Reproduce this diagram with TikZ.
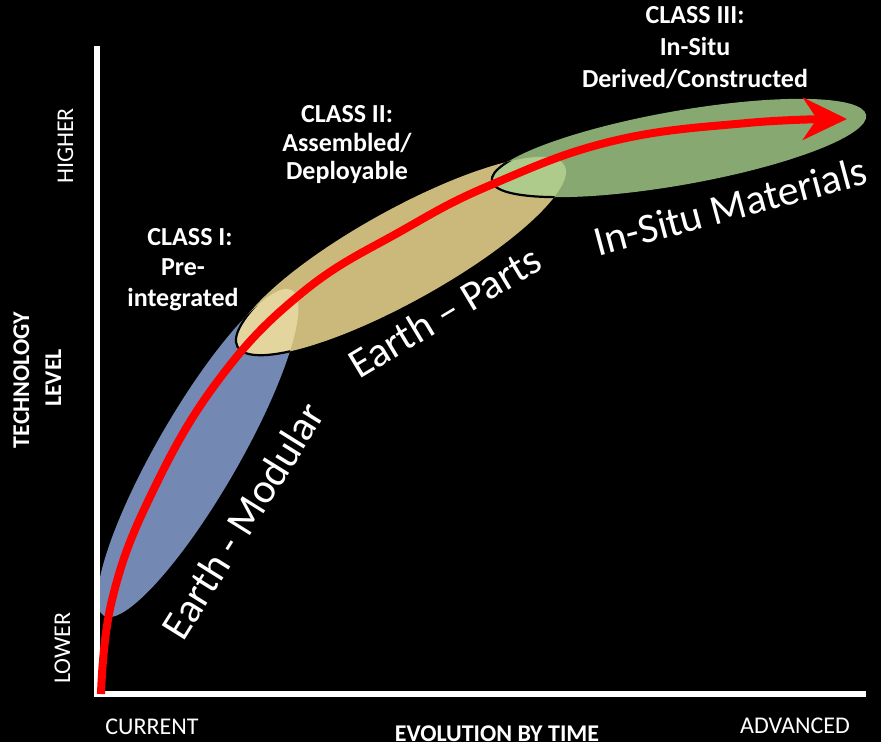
\documentclass[tikz,border=0pt]{standalone}
\usepackage{fontspec}
\setmainfont{Carlito}
\usetikzlibrary{arrows.meta}
\definecolor{bluefill}{RGB}{115,137,180}
\definecolor{tanfill}{RGB}{203,185,124}
\definecolor{tanlight}{RGB}{227,213,157}
\definecolor{greenfill}{RGB}{135,168,113}
\definecolor{greenlight}{RGB}{174,203,140}
\definecolor{arrowred}{RGB}{255,0,0}
\tikzset{
  cls/.style={text=white, font=\bfseries\fontsize{26}{30}\selectfont, inner sep=0pt, anchor=base},
  axl/.style={text=white, font=\fontsize{24}{29}\selectfont, inner sep=0pt, anchor=base},
  axb/.style={text=white, font=\bfseries\fontsize{24}{29}\selectfont, inner sep=0pt, anchor=base},
  big/.style={text=white, font=\fontsize{42}{50}\selectfont, inner sep=0pt, anchor=base},
  axis line/.style={draw=white, line width=6pt},
  overlap edge/.style={draw=black, line width=2.2pt},
}
\begin{document}
\begin{tikzpicture}[x=1pt,y=-1pt]
\useasboundingbox (0,0) rectangle (881,742);
\fill[black] (0,0) rectangle (881,742);
% ellipses
\fill[bluefill, rotate around={60:(198,453)}] (198,453) ellipse [x radius=188pt, y radius=41pt];
\fill[tanfill, rotate around={29:(401,256)}] (401,256) ellipse [x radius=187pt, y radius=46pt];
\begin{scope}
  \clip[rotate around={60:(198,453)}] (198,453) ellipse [x radius=188pt, y radius=41pt];
  \fill[tanlight, rotate around={29:(401,256)}] (401,256) ellipse [x radius=187pt, y radius=46pt];
  \draw[overlap edge, rotate around={29:(401,256)}] (401,256) ellipse [x radius=187pt, y radius=46pt];
\end{scope}
\fill[greenfill, rotate around={10:(679,148)}] (679,148) ellipse [x radius=190pt, y radius=37pt];
\begin{scope}
  \clip[rotate around={29:(401,256)}] (401,256) ellipse [x radius=187pt, y radius=46pt];
  \fill[greenlight, rotate around={10:(679,148)}] (679,148) ellipse [x radius=190pt, y radius=37pt];
  \draw[overlap edge, rotate around={10:(679,148)}] (679,148) ellipse [x radius=190pt, y radius=37pt];
\end{scope}
% axes
\coordinate (ytop) at (96.5,46);
\coordinate (ybot) at (96.5,696.5);
\coordinate (xstart) at (93.5,693.5);
\coordinate (xend) at (866,693.5);
\draw[axis line] (ytop) -- (ybot);
\draw[axis line] (xstart) -- (xend);
% red curve
\coordinate (rs) at (101,694);
\coordinate (rtip) at (847,119);
\draw[arrowred, line width=8pt, -{Stealth[length=44pt, width=42pt, inset=14pt]}]
  plot[smooth, tension=0.7] coordinates {(rs) (112,600) (150,497) (217,382) (303,292) (403,230) (493,184) (613,141) (747,123) (rtip)};
% class labels
\node[cls] (c1a) at (190,245) {CLASS I:};
\node[cls] (c1b) at (183,275) {Pre-};
\node[cls] (c1c) at (183,306) {integrated};
\node[cls] (c2a) at (347,122) {CLASS II:};
\node[cls] (c2b) at (347,151) {Assembled/};
\node[cls] (c2c) at (347,179) {Deployable};
\node[cls] (c3a) at (695,23) {CLASS III:};
\node[cls] (c3b) at (695,55) {In-Situ};
\node[cls] (c3c) at (695,87) {Derived/Constructed};
% big labels
\node[big, rotate=58] (em) at (255,528) {Earth - Modular};
\node[big, rotate=31] (ep) at (452,324) {Earth – Parts};
\node[big, rotate=15] (im) at (734,220) {In-Situ Materials};
% axis labels
\node[axl, rotate=90] (hi) at (73,146) {HIGHER};
\node[axl, rotate=90] (lo) at (70,648) {LOWER};
\node[axl] (cur) at (152,734) {CURRENT};
\node[axl] (adv) at (795,733) {ADVANCED};
\node[axb] (evo) at (497,741) {EVOLUTION BY TIME};
\node[axb, rotate=90] (tech) at (29,380) {TECHNOLOGY};
\node[axb, rotate=90] (lev) at (61,378) {LEVEL};
\end{tikzpicture}
\end{document}
